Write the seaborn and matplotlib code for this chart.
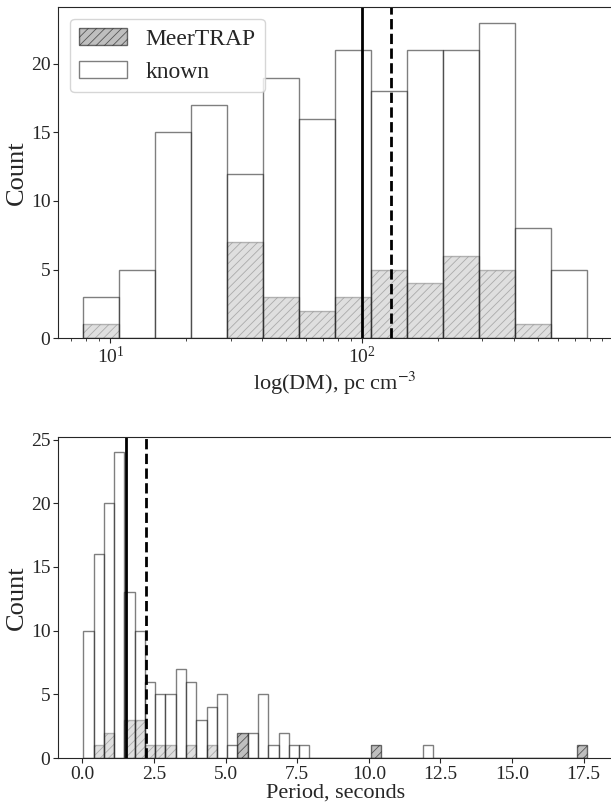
import numpy as np
import matplotlib
matplotlib.use("Agg")
import matplotlib.pyplot as plt
import seaborn as sns

# ---------------- data ----------------
# DM histogram (log-spaced bins, edges in log10 units)
dm_log_range = (0.892, 2.893)
dm_nbins = 14
dm_known = [3, 5, 15, 17, 12, 19, 16, 21, 18, 21, 21, 23, 8, 5]
dm_meertrap = [1, 0, 0, 0, 7, 3, 2, 3, 5, 4, 6, 5, 1, 0]
dm_lines = [100.0, 130.0]          # solid, dashed

# Period histogram
p_range = (0.03, 17.62)
p_nbins = 49
p_known = [10, 16, 20, 24, 13, 10, 6, 5, 5, 7, 6, 3, 4, 5, 1, 0, 2, 5, 1, 2, 1, 1,
           0, 0, 0, 0, 0, 0, 0, 0, 0, 0, 0, 1, 0, 0, 0, 0, 0, 0, 0, 0, 0, 0, 0, 0,
           0, 0, 0]
p_meertrap = [0, 1, 2, 0, 3, 3, 1, 1, 1, 0, 1, 0, 1, 0, 0, 2, 0, 0, 0, 0, 0, 0,
              0, 0, 0, 0, 0, 0, 1, 0, 0, 0, 0, 0, 0, 0, 0, 0, 0, 0, 0, 0, 0, 0,
              0, 0, 0, 0, 1]
p_lines = [1.53, 2.21]

labels = ["MeerTRAP", "known"]

# ---------------- style ----------------
sns.set_style("ticks")
plt.rcParams["font.family"] = ["Liberation Serif", "DejaVu Serif"]
plt.rcParams["mathtext.fontset"] = "stix"
plt.rcParams["xtick.direction"] = "out"
plt.rcParams["ytick.direction"] = "out"
plt.rcParams["hatch.linewidth"] = 0.6

fig = plt.figure(figsize=(6.11, 8.07), dpi=100)
ax1 = fig.add_axes([0.095, 0.581, 0.907, 0.4105])
ax2 = fig.add_axes([0.095, 0.0607, 0.907, 0.3978])

mt_kw = dict(color="grey", alpha=0.5, hatch="////", edgecolor=(0, 0, 0, 0.55), linewidth=1.0)
kn_kw = dict(color="white", alpha=0.5, edgecolor=(0, 0, 0, 0.5), linewidth=1.0)

# ---- top: DM ----
edges_log = np.linspace(dm_log_range[0], dm_log_range[1], dm_nbins + 1)
centers_dm = 10 ** (0.5 * (edges_log[:-1] + edges_log[1:]))
sns.histplot(x=centers_dm, weights=dm_meertrap, bins=dm_nbins, binrange=dm_log_range,
             log_scale=True, ax=ax1, label=labels[0], **mt_kw)
sns.histplot(x=centers_dm, weights=dm_known, bins=dm_nbins, binrange=dm_log_range,
             log_scale=True, ax=ax1, label=labels[1], **kn_kw)
ax1.axvline(dm_lines[0], color="black", lw=2)
ax1.axvline(dm_lines[1], color="black", lw=2, ls="--")
ax1.set_xlabel(r"log(DM), pc cm$^{-3}$", fontsize=16, labelpad=2)
ax1.set_ylabel("Count", fontsize=19, labelpad=2)
ax1.set_yticks([0, 5, 10, 15, 20])
ax1.tick_params(labelsize=14, pad=2)
ax1.legend(loc="upper left", fontsize=17, handlelength=2.0)

# ---- bottom: period ----
edges_p = np.linspace(p_range[0], p_range[1], p_nbins + 1)
centers_p = 0.5 * (edges_p[:-1] + edges_p[1:])
sns.histplot(x=centers_p, weights=p_meertrap, bins=p_nbins, binrange=p_range,
             ax=ax2, **mt_kw)
sns.histplot(x=centers_p, weights=p_known, bins=p_nbins, binrange=p_range,
             ax=ax2, **kn_kw)
ax2.axvline(p_lines[0], color="black", lw=2)
ax2.axvline(p_lines[1], color="black", lw=2, ls="--")
ax2.set_xlabel("Period, seconds", fontsize=16, labelpad=1)
ax2.set_ylabel("Count", fontsize=19, labelpad=2)
ax2.set_xticks([0.0, 2.5, 5.0, 7.5, 10.0, 12.5, 15.0, 17.5])
ax2.set_xticklabels(["0.0", "2.5", "5.0", "7.5", "10.0", "12.5", "15.0", "17.5"])
ax2.tick_params(labelsize=14, pad=2)

for ax in (ax1, ax2):
    for s in ax.spines.values():
        s.set_visible(True)

fig.savefig("out.png", dpi=100)
